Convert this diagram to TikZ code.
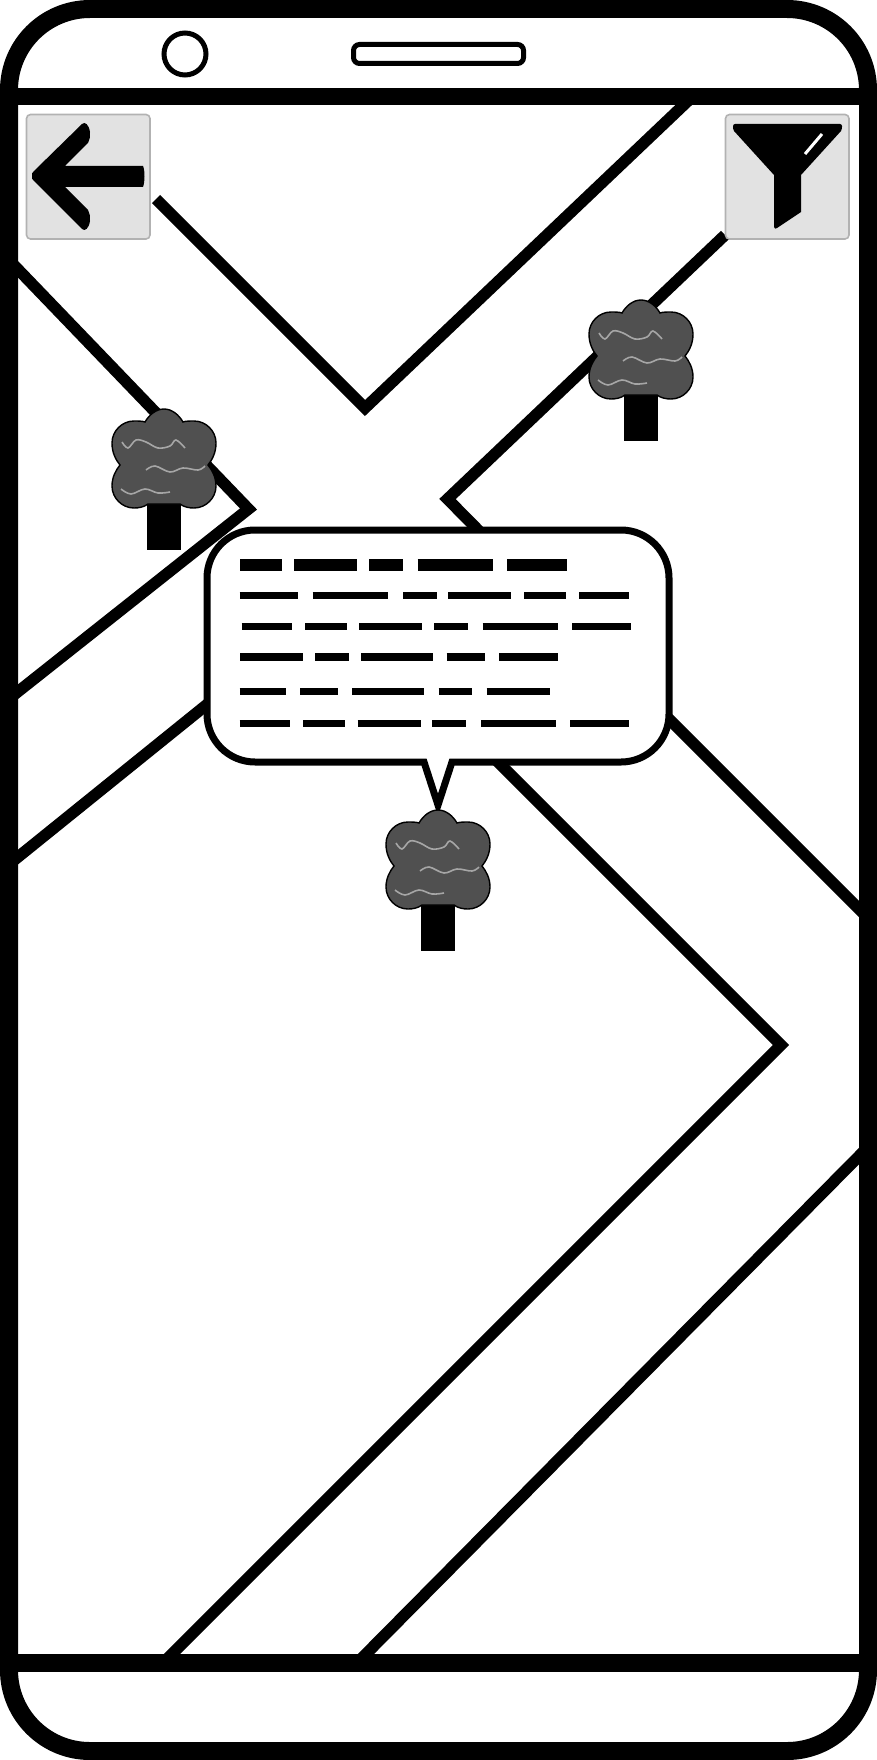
\documentclass[tikz,border=0pt]{standalone}
\definecolor{buttongray}{HTML}{E2E2E2}
\definecolor{crowngray}{HTML}{505050}
\tikzset{
	road/.style={line width=5.75pt, line join=miter},
	frame/.style={line width=9pt},
	bar/.style={line width=8.8pt},
	button/.style={fill=buttongray, draw=black!30, line width=.8pt, rounded corners=2pt},
	wave/.style={draw=black!35, line width=.8pt},
	pics/shrub/.style={code={
		\fill (-17,40) rectangle (17,91);
		\draw [fill=crowngray, line width=.7pt] (0,-50)
			.. controls (-8,-50) and (-15,-44) .. (-19,-37)
			.. controls (-22,-38) and (-26,-38) .. (-30,-38)
			.. controls (-42,-38) and (-52,-28) .. (-52,-16)
			.. controls (-52,-6) and (-48,1) .. (-44,6)
			.. controls (-48,11) and (-52,18) .. (-52,27)
			.. controls (-52,39) and (-42,49) .. (-30,49)
			.. controls (-25,49) and (-20,48) .. (-16,45)
			-- (16,45)
			.. controls (20,48) and (25,49) .. (30,49)
			.. controls (42,49) and (52,39) .. (52,27)
			.. controls (52,18) and (48,11) .. (44,6)
			.. controls (48,1) and (52,-6) .. (52,-16)
			.. controls (52,-28) and (42,-38) .. (30,-38)
			.. controls (26,-38) and (22,-38) .. (19,-37)
			.. controls (15,-44) and (8,-50) .. (0,-50) -- cycle;
		\draw [wave] plot [smooth, tension=.6] coordinates {(-42,-17) (-36,-11) (-28,-19) (-18,-17) (-6,-11) (6,-13) (12,-19) (21,-11)};
		\draw [wave] plot [smooth, tension=.6] coordinates {(-18,11) (-9,7) (6,13) (19,9) (34,11) (41,7)};
		\draw [wave] plot [smooth, tension=.6] coordinates {(-43,30) (-33,35) (-19,30) (-6,34) (6,33)};
	}}
}
\begin{document}
\begin{tikzpicture}[x=.5pt, y=-.5pt]
	\useasboundingbox (0,0) rectangle (877,1760);

	\draw [road] (156,199) -- (365,408) -- (690,99);
	\draw [road] (10,261) -- (248.5,509) -- (10,698);
	\draw [road] (725,235) -- (447.5,499) -- (485,537);
	\draw [road] (10,863.5) -- (215,698);
	\draw [road] (660,710) -- (870,920);
	\draw [road] (497,761) -- (781,1045) -- (164,1662);
	\draw [road] (870,1145) -- (358,1662);

	\draw [frame, rounded corners=40.5pt] (9,9) rectangle (868,1751);
	\draw [bar] (9,96.5) -- (868,96.5);
	\draw [bar] (9,1663) -- (868,1663);
	\draw [line width=2.5pt] (185,54) circle (21);
	\draw [line width=2.5pt, rounded corners=3pt] (353.5,44.5) rectangle (523.5,63.5);

	\draw [button] (26.5,114.5) rectangle (150,239);
	\draw [button] (725.5,114.5) rectangle (849,239);
	\fill (32,176)
		.. controls (32,173) .. (34,171) -- (82,124)
		.. controls (85,121) and (89,125) .. (90,132)
		.. controls (90,138) .. (88,143) -- (65,166) -- (143,166)
		.. controls (145,170) and (145,182) .. (143,187) -- (65,187) -- (88,210)
		.. controls (90,215) .. (90,221)
		.. controls (89,228) and (85,232) .. (82,229) -- (34,181)
		.. controls (32,179) .. (32,176) -- cycle;
	\fill (735,124) -- (840,124)
		.. controls (842,124) and (843,127) .. (841,131) -- (801,175) -- (801,212) -- (777,228)
		.. controls (775,229) .. (774,227) -- (774,175) -- (734,131)
		.. controls (732,127) and (733,124) .. (735,124) -- cycle;
	\draw [white, line width=1.5pt] (822,134) -- (805,154);

	\draw [fill=white, line width=3.5pt] (424,762) -- (255,762)
		.. controls (228.5,762) and (207,740.5) .. (207,714) -- (207,578)
		.. controls (207,551.5) and (228.5,530) .. (255,530) -- (621,530)
		.. controls (647.5,530) and (669,551.5) .. (669,578) -- (669,714)
		.. controls (669,740.5) and (647.5,762) .. (621,762)
		-- (452,762) -- (438,805) -- cycle;

	\foreach \ypos/\thick/\segs in {
		565/6/{240/282,294.3/357.3,369/403,417.7/493,507/566.7},
		595.7/3.6/{239.7/298.3,312.7/388,403/436.7,448.3/511.3,524/566,579/629.3},
		626.3/3.6/{241.7/292,305/347,359.3/422.3,434/468,482.7/558,572.3/631.3},
		657/3.6/{240/302.7,315/349,361.3/432.7,446.7/484.7,499.3/558},
		691.3/3.6/{239.7/286,300/338,352.3/423.7,438.7/472.3,486.7/549.7},
		723.3/3.6/{239.7/290,303/345,357.7/420.7,432.3/466,481/556.3,570.3/629.3}}
	{
		\foreach \xa/\xb in \segs
			\draw [line width=\thick pt] (\xa,\ypos) -- (\xb,\ypos);
	}

	\foreach \xpos/\ypos in {164/459,641/350,438/860}
		\path (\xpos,\ypos) pic {shrub};
\end{tikzpicture}
\end{document}
